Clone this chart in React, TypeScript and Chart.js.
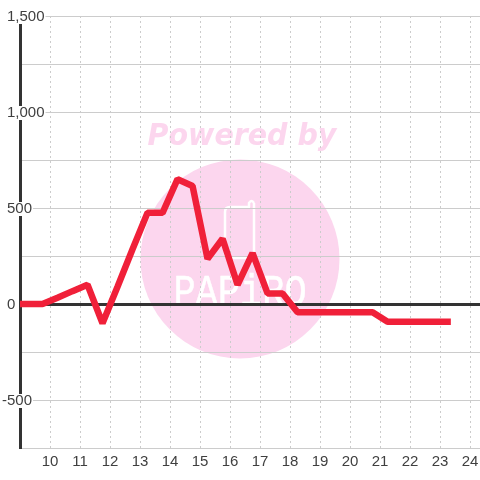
import React, { useEffect, useRef } from "react";
import { Chart, registerables } from "chart.js";

Chart.register(...registerables);

const hours = [8.75, 9.25, 9.75, 10.25, 10.75, 11.25, 11.75, 12.25, 12.75, 13.25, 13.75, 14.25, 14.75, 15.25, 15.75, 16.25, 16.75, 17.25, 17.75, 18.25, 18.75, 19.25, 19.75, 20.25, 20.75, 21.25, 21.75, 22.25, 22.75, 23.25];
const values = [0, 0, 0, 33, 67, 100, -100, 90, 285, 475, 475, 650, 615, 235, 340, 100, 265, 55, 55, -43, -43, -43, -43, -43, -43, -93, -93, -93, -93, -93];
const xTicks = [10, 11, 12, 13, 14, 15, 16, 17, 18, 19, 20, 21, 22, 23, 24];
const yLabelled = [1500, 1000, 500, 0, -500];

const watermark = {
  id: "watermark",
  beforeDraw(chart: any) {
    const c = chart.ctx;
    c.save();
    c.fillStyle = "#ffffff";
    c.fillRect(0, 0, chart.width, chart.height);
    c.fillStyle = "#fcd6ee";
    c.beginPath();
    c.arc(240, 259, 99.5, 0, Math.PI * 2);
    c.fill();
    c.save();
    c.translate(242, 145);
    c.scale(0.95, 1);
    c.font = 'italic bold 30px "DejaVu Sans"';
    c.textAlign = "center";
    c.textBaseline = "alphabetic";
    c.fillText("Powered by", 0, 0);
    c.restore();
    c.strokeStyle = "#ffffff";
    c.lineWidth = 2.5;
    c.lineJoin = "round";
    c.beginPath();
    c.moveTo(254, 203);
    c.lineTo(254, 258);
    c.lineTo(230, 258);
    c.quadraticCurveTo(225, 258, 225, 253);
    c.lineTo(225, 212);
    c.quadraticCurveTo(225, 207, 230, 207);
    c.lineTo(249, 207);
    c.lineTo(249, 203);
    c.quadraticCurveTo(251.5, 199, 254, 203);
    c.stroke();
    c.fillStyle = "#ffffff";
    c.save();
    c.translate(240, 305);
    c.scale(1, 1.2);
    c.font = '37px "Liberation Mono"';
    c.textAlign = "center";
    c.lineWidth = 0.4;
    c.fillText("PAPiRO", 0, 0);
    c.strokeText("PAPiRO", 0, 0);
    c.restore();
    c.restore();
  },
};

const yLabels = {
  id: "yLabels",
  afterDraw(chart: any) {
    const c = chart.ctx;
    const y = chart.scales.y;
    c.save();
    c.font = '15px "Liberation Sans"';
    c.textBaseline = "middle";
    c.textAlign = "left";
    yLabelled.forEach((v) => {
      const text = v.toLocaleString("en-US");
      const py = y.getPixelForValue(v);
      const px = v < 0 ? 2 : 7;
      const w = c.measureText(text).width;
      if (v !== 0) {
        c.fillStyle = "#ffffff";
        c.fillRect(px - 1, py - 6, w + 2, 14);
      }
      c.fillStyle = "#3f3f3f";
      c.fillText(text, px, py + 1);
    });
    c.restore();
  },
};

export default function App() {
  const ref = useRef<HTMLCanvasElement>(null);
  useEffect(() => {
    document.body.style.margin = "0";
    const chart = new Chart(ref.current as HTMLCanvasElement, {
      type: "line",
      data: {
        datasets: [
          {
            data: hours.map((h, i) => ({ x: h, y: values[i] })),
            borderColor: "#f02039",
            borderWidth: 6.5,
            borderJoinStyle: "bevel",
            borderCapStyle: "square",
            pointRadius: 0,
            tension: 0,
            fill: false,
          },
        ],
      },
      options: {
        animation: false,
        responsive: false,
        layout: { autoPadding: false, padding: { top: 16, left: 0, right: 0, bottom: 0 } },
        plugins: { legend: { display: false }, tooltip: { enabled: false } },
        scales: {
          x: {
            type: "linear",
            min: 9,
            max: 24.33,
            afterBuildTicks: (s: any) => {
              s.ticks = xTicks.map((value) => ({ value }));
            },
            afterFit: (s: any) => {
              s.height = 32;
              s.paddingLeft = 0;
              s.paddingRight = 0;
            },
            ticks: {
              autoSkip: false,
              maxRotation: 0,
              color: "#3f3f3f",
              padding: 5,
              font: { family: "Liberation Sans", size: 15 },
              callback: (v: any) => String(v),
            },
            grid: { color: "#cccccc", lineWidth: 1, drawTicks: false },
            border: { display: false, dash: [2, 3] },
          },
          y: {
            type: "linear",
            min: -750,
            max: 1500,
            afterFit: (s: any) => {
              s.width = 20;
            },
            ticks: { stepSize: 250, display: false },
            grid: {
              drawTicks: false,
              color: (ctx: any) => (ctx.tick && ctx.tick.value === 0 ? "#333333" : "#cccccc"),
              lineWidth: (ctx: any) => (ctx.tick && ctx.tick.value === 0 ? 3 : 1),
            },
            border: { display: true, color: "#333333", width: 3 },
          },
        },
      } as any,
      plugins: [watermark, yLabels],
    });
    return () => chart.destroy();
  }, []);
  return <canvas ref={ref} width={480} height={480} style={{ display: "block" }} />;
}
